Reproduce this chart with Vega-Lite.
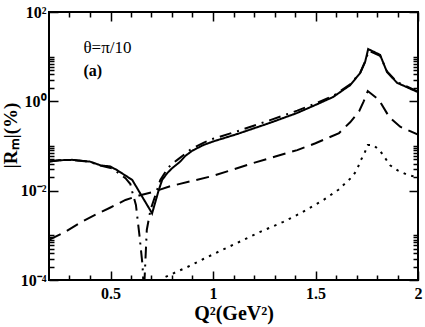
{
  "$schema": "https://vega.github.io/schema/vega-lite/v6.json",
  "width": 369,
  "height": 268,
  "autosize": {"type": "none"},
  "padding": {"left": 49, "top": 12, "right": 7, "bottom": 47},
  "background": "white",
  "config": {
    "view": {"stroke": "black", "strokeWidth": 2},
    "axis": {
      "domain": false,
      "grid": false,
      "tickColor": "black",
      "tickWidth": 1.5,
      "labelColor": "black",
      "labelFont": "Liberation Serif",
      "labelFontWeight": "bold",
      "labelFontSize": 16,
      "labelFlush": false,
      "labelOverlap": false,
      "titleFont": "Liberation Serif",
      "titleFontWeight": "bold",
      "titleFontSize": 20,
      "titleColor": "black"
    }
  },
  "data": {
    "values": [
      {"s": "solid", "x": 0.2, "y": 0.0447},
      {"s": "solid", "x": 0.25, "y": 0.048},
      {"s": "solid", "x": 0.313, "y": 0.049},
      {"s": "solid", "x": 0.4, "y": 0.0447},
      {"s": "solid", "x": 0.451, "y": 0.037},
      {"s": "solid", "x": 0.5, "y": 0.0347},
      {"s": "solid", "x": 0.532, "y": 0.0288},
      {"s": "solid", "x": 0.606, "y": 0.0174},
      {"s": "solid", "x": 0.703, "y": 0.0031},
      {"s": "solid", "x": 0.735, "y": 0.0102},
      {"s": "solid", "x": 0.752, "y": 0.0174},
      {"s": "solid", "x": 0.776, "y": 0.0245},
      {"s": "solid", "x": 0.8, "y": 0.0316},
      {"s": "solid", "x": 0.84, "y": 0.0447},
      {"s": "solid", "x": 0.865, "y": 0.06},
      {"s": "solid", "x": 0.9, "y": 0.079},
      {"s": "solid", "x": 0.953, "y": 0.105},
      {"s": "solid", "x": 1.0, "y": 0.126},
      {"s": "solid", "x": 1.119, "y": 0.186},
      {"s": "solid", "x": 1.279, "y": 0.331},
      {"s": "solid", "x": 1.411, "y": 0.55},
      {"s": "solid", "x": 1.5, "y": 0.83},
      {"s": "solid", "x": 1.586, "y": 1.25},
      {"s": "solid", "x": 1.669, "y": 2.3},
      {"s": "solid", "x": 1.718, "y": 4.3},
      {"s": "solid", "x": 1.742, "y": 7.6},
      {"s": "solid", "x": 1.757, "y": 14.8},
      {"s": "solid", "x": 1.815, "y": 11},
      {"s": "solid", "x": 1.849, "y": 4.5},
      {"s": "solid", "x": 1.898, "y": 2.6},
      {"s": "solid", "x": 2.0, "y": 1.6},
      {"s": "dashdot", "x": 0.2, "y": 0.0447},
      {"s": "dashdot", "x": 0.25, "y": 0.048},
      {"s": "dashdot", "x": 0.313, "y": 0.049},
      {"s": "dashdot", "x": 0.4, "y": 0.0443},
      {"s": "dashdot", "x": 0.45, "y": 0.0363},
      {"s": "dashdot", "x": 0.508, "y": 0.0316},
      {"s": "dashdot", "x": 0.573, "y": 0.019},
      {"s": "dashdot", "x": 0.597, "y": 0.0141},
      {"s": "dashdot", "x": 0.606, "y": 0.0095},
      {"s": "dashdot", "x": 0.624, "y": 0.0048},
      {"s": "dashdot", "x": 0.641, "y": 0.00102},
      {"s": "dashdot", "x": 0.656, "y": 0.00022},
      {"s": "dashdot", "x": 0.663, "y": 0.00005},
      {"s": "dashdot", "x": 0.677, "y": 0.00132},
      {"s": "dashdot", "x": 0.695, "y": 0.0037},
      {"s": "dashdot", "x": 0.719, "y": 0.0079},
      {"s": "dashdot", "x": 0.743, "y": 0.0174},
      {"s": "dashdot", "x": 0.768, "y": 0.0263},
      {"s": "dashdot", "x": 0.792, "y": 0.037},
      {"s": "dashdot", "x": 0.826, "y": 0.049},
      {"s": "dashdot", "x": 0.89, "y": 0.083},
      {"s": "dashdot", "x": 0.953, "y": 0.118},
      {"s": "dashdot", "x": 1.0, "y": 0.145},
      {"s": "dashdot", "x": 1.119, "y": 0.214},
      {"s": "dashdot", "x": 1.279, "y": 0.38},
      {"s": "dashdot", "x": 1.411, "y": 0.62},
      {"s": "dashdot", "x": 1.5, "y": 0.89},
      {"s": "dashdot", "x": 1.586, "y": 1.32},
      {"s": "dashdot", "x": 1.669, "y": 2.4},
      {"s": "dashdot", "x": 1.718, "y": 4.4},
      {"s": "dashdot", "x": 1.742, "y": 7.8},
      {"s": "dashdot", "x": 1.76, "y": 13.5},
      {"s": "dashdot", "x": 1.815, "y": 10.5},
      {"s": "dashdot", "x": 1.849, "y": 4.7},
      {"s": "dashdot", "x": 1.898, "y": 2.7},
      {"s": "dashdot", "x": 2.0, "y": 1.65},
      {"s": "dashed", "x": 0.2, "y": 0.00079},
      {"s": "dashed", "x": 0.28, "y": 0.0012},
      {"s": "dashed", "x": 0.35, "y": 0.0019},
      {"s": "dashed", "x": 0.427, "y": 0.0029},
      {"s": "dashed", "x": 0.5, "y": 0.0042},
      {"s": "dashed", "x": 0.573, "y": 0.0062},
      {"s": "dashed", "x": 0.64, "y": 0.0078},
      {"s": "dashed", "x": 0.705, "y": 0.0093},
      {"s": "dashed", "x": 0.792, "y": 0.0126},
      {"s": "dashed", "x": 0.9, "y": 0.0166},
      {"s": "dashed", "x": 1.0, "y": 0.0214},
      {"s": "dashed", "x": 1.1, "y": 0.03},
      {"s": "dashed", "x": 1.197, "y": 0.0417},
      {"s": "dashed", "x": 1.3, "y": 0.0575},
      {"s": "dashed", "x": 1.411, "y": 0.081},
      {"s": "dashed", "x": 1.5, "y": 0.115},
      {"s": "dashed", "x": 1.615, "y": 0.195},
      {"s": "dashed", "x": 1.669, "y": 0.34},
      {"s": "dashed", "x": 1.713, "y": 0.6},
      {"s": "dashed", "x": 1.735, "y": 1.0},
      {"s": "dashed", "x": 1.755, "y": 1.7},
      {"s": "dashed", "x": 1.81, "y": 1.07},
      {"s": "dashed", "x": 1.859, "y": 0.45},
      {"s": "dashed", "x": 1.913, "y": 0.27},
      {"s": "dashed", "x": 2.0, "y": 0.18},
      {"s": "dotted", "x": 0.74, "y": 0.00009},
      {"s": "dotted", "x": 0.758, "y": 0.000112},
      {"s": "dotted", "x": 0.875, "y": 0.000195},
      {"s": "dotted", "x": 0.953, "y": 0.000295},
      {"s": "dotted", "x": 1.036, "y": 0.00045},
      {"s": "dotted", "x": 1.119, "y": 0.00068},
      {"s": "dotted", "x": 1.231, "y": 0.0012},
      {"s": "dotted", "x": 1.343, "y": 0.002},
      {"s": "dotted", "x": 1.425, "y": 0.0031},
      {"s": "dotted", "x": 1.539, "y": 0.0062},
      {"s": "dotted", "x": 1.612, "y": 0.0105},
      {"s": "dotted", "x": 1.677, "y": 0.02},
      {"s": "dotted", "x": 1.702, "y": 0.029},
      {"s": "dotted", "x": 1.718, "y": 0.045},
      {"s": "dotted", "x": 1.739, "y": 0.069},
      {"s": "dotted", "x": 1.755, "y": 0.105},
      {"s": "dotted", "x": 1.783, "y": 0.105},
      {"s": "dotted", "x": 1.815, "y": 0.078},
      {"s": "dotted", "x": 1.864, "y": 0.037},
      {"s": "dotted", "x": 1.903, "y": 0.028},
      {"s": "dotted", "x": 1.942, "y": 0.0234},
      {"s": "dotted", "x": 2.0, "y": 0.0195}
    ]
  },
  "layer": [
    {
      "mark": {"type": "line", "clip": true, "color": "black"},
      "encoding": {
        "x": {"field": "x", "type": "quantitative",
              "scale": {"domain": [0.2, 2], "nice": false, "zero": false},
              "axis": {"orient": "bottom", "values": [0.5, 1, 1.5, 2], "tickSize": -9, "labelPadding": 14,
                       "labelExpr": "format(datum.value, '~g')", "title": "Q²(GeV²)", "titlePadding": 2}},
        "y": {"field": "y", "type": "quantitative",
              "scale": {"type": "log", "domain": [0.0001, 100], "nice": false},
              "axis": {"orient": "left", "values": [0.0001, 0.01, 1, 100], "tickSize": -9, "labelPadding": 12,
                       "labelExpr": "datum.value == 100 ? '10²' : datum.value == 1 ? '10⁰' : datum.value == 0.01 ? '10⁻²' : datum.value == 0.0001 ? '10⁻⁴' : ''",
                       "title": "|Rₘ|(%)", "titleFontSize": 19, "titleBaseline": "alphabetic", "titleX": -33, "titleY": 123}},
        "strokeDash": {"field": "s", "type": "nominal",
                       "scale": {"domain": ["solid", "dashdot", "dashed", "dotted"],
                                 "range": [[1, 0], [12, 6, 2, 6], [13, 7], [2.5, 5.5]]},
                       "legend": null},
        "strokeWidth": {"field": "s", "type": "nominal",
                        "scale": {"domain": ["solid", "dashdot", "dashed", "dotted"], "range": [2, 2, 2, 2.5]},
                        "legend": null}
      }
    },
    {
      "mark": {"type": "line", "opacity": 0},
      "encoding": {
        "x": {"field": "x", "type": "quantitative",
              "scale": {"domain": [0.2, 2], "nice": false, "zero": false},
              "axis": {"orient": "bottom", "values": [0.3, 0.4, 0.6, 0.7, 0.8, 0.9, 1.1, 1.2, 1.3, 1.4, 1.6, 1.7, 1.8, 1.9],
                       "tickSize": -5, "labels": false, "title": null}},
        "y": {"field": "y", "type": "quantitative",
              "scale": {"type": "log", "domain": [0.0001, 100], "nice": false},
              "axis": {"orient": "left", "values": [0.0002, 0.0003, 0.0004, 0.0005, 0.0006, 0.0007, 0.0008, 0.0009, 0.001, 0.02, 0.03, 0.04, 0.05, 0.06, 0.07, 0.08, 0.09, 0.1, 2, 3, 4, 5, 6, 7, 8, 9, 10],
                       "tickSize": -5, "labels": false, "title": null}},
        "detail": {"field": "s"}
      }
    },
    {
      "mark": {"type": "line", "opacity": 0},
      "encoding": {
        "x": {"field": "x", "type": "quantitative",
              "scale": {"domain": [0.2, 2], "nice": false, "zero": false},
              "axis": {"orient": "top", "values": [0.5, 1, 1.5, 2], "tickSize": -9, "labels": false, "title": null}},
        "y": {"field": "y", "type": "quantitative",
              "scale": {"type": "log", "domain": [0.0001, 100], "nice": false},
              "axis": {"orient": "right", "values": [0.0001, 0.01, 1, 100], "tickSize": -9, "labels": false, "title": null}},
        "detail": {"field": "s"}
      }
    },
    {
      "mark": {"type": "line", "opacity": 0},
      "encoding": {
        "x": {"field": "x", "type": "quantitative",
              "scale": {"domain": [0.2, 2], "nice": false, "zero": false},
              "axis": {"orient": "top", "values": [0.3, 0.4, 0.6, 0.7, 0.8, 0.9, 1.1, 1.2, 1.3, 1.4, 1.6, 1.7, 1.8, 1.9],
                       "tickSize": -5, "labels": false, "title": null}},
        "y": {"field": "y", "type": "quantitative",
              "scale": {"type": "log", "domain": [0.0001, 100], "nice": false},
              "axis": {"orient": "right", "values": [0.0002, 0.0003, 0.0004, 0.0005, 0.0006, 0.0007, 0.0008, 0.0009, 0.001, 0.02, 0.03, 0.04, 0.05, 0.06, 0.07, 0.08, 0.09, 0.1, 2, 3, 4, 5, 6, 7, 8, 9, 10],
                       "tickSize": -5, "labels": false, "title": null}},
        "detail": {"field": "s"}
      }
    },
    {
      "data": {"values": [{"x": 0.368, "y": 15.6, "t": "θ=π/10"}]},
      "mark": {"type": "text", "align": "left", "baseline": "middle", "font": "Liberation Serif", "fontSize": 17, "color": "black"},
      "encoding": {
        "x": {"field": "x", "type": "quantitative", "axis": null},
        "y": {"field": "y", "type": "quantitative", "axis": null},
        "text": {"field": "t"}
      }
    },
    {
      "data": {"values": [{"x": 0.368, "y": 4.8, "t": "(a)"}]},
      "mark": {"type": "text", "align": "left", "baseline": "middle", "font": "Liberation Serif", "fontSize": 16, "fontWeight": "bold", "color": "black"},
      "encoding": {
        "x": {"field": "x", "type": "quantitative", "axis": null},
        "y": {"field": "y", "type": "quantitative", "axis": null},
        "text": {"field": "t"}
      }
    }
  ],
  "resolve": {"axis": {"x": "independent", "y": "independent"}}
}
